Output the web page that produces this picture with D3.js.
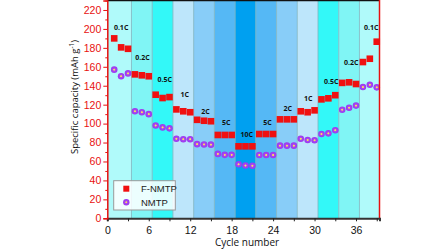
<!DOCTYPE html>
<html><head><meta charset="utf-8">
<script src="https://cdn.jsdelivr.net/npm/d3@7/dist/d3.min.js"></script>
<style>body{margin:0;background:#fff}svg{display:block}</style>
</head><body>
<script>
const cycles = d3.range(1, 40);
const fnmtp = [190,180.5,179, 152,151,150, 130.5,127,128, 115,113,112, 104,103,102.5, 88,88,88, 76,76,76, 89,89,89, 104.5,104.5,104.5, 113,112,114, 125.6,126.7,130, 143,143.6,141.8, 165,168.5,186.5];
const nmtp = [157,150,153, 113,112,110, 98,96,95, 84,83.5,83.5, 78.3,78,77.8, 68,67,67, 57,55.7,55.5, 66.8,66.8,66.8, 76.7,76.7,76.7, 84,82.7,82.4, 89,89.7,93, 114.7,116.8,119, 138.6,141,138.3];
const bandEdges = [0,3.5,6.5,9.5,12.5,15.5,18.5,21.5,24.5,27.5,30.5,33.5,36.5,39.4];
const bandColors = ["#b0fafa","#80f5f5","#33f8f8","#bde6fb","#88cdf8","#55b8f5","#00a0f0","#55b8f5","#88cdf8","#bde6fb","#33f8f8","#80f5f5","#b0fafa"];
const rateLabels = ["0.1C","0.2C","0.5C","1C","2C","5C","10C","5C","2C","1C","0.5C","0.2C","0.1C"];
const labelX = [2,5.1,8.3,11.2,14.2,17.2,20.2,23.2,26.1,29.1,32.4,35.3,38.2];
const labelY = [201,170,147,131,113,101,89,101,116,126,144,164,201];
const xTicks = [0,6,12,18,24,30,36];
const yTicks = d3.range(0, 221, 20);

const W = 448, H = 252;
const svg = d3.select("body").append("svg").attr("width", W).attr("height", H);
const x = d3.scaleLinear().domain([0, 39.4]).range([107.3, 379.5]);
const y = d3.scaleLinear().domain([0, 230]).range([218.3, 0.5]);

const defs = svg.append("defs");
const rg = defs.append("radialGradient").attr("id","pg").attr("cx","50%").attr("cy","50%").attr("r","50%");
rg.append("stop").attr("offset","0%").attr("stop-color","#ffe850");
rg.append("stop").attr("offset","20%").attr("stop-color","#f8d860");
rg.append("stop").attr("offset","40%").attr("stop-color","#a848f0");
rg.append("stop").attr("offset","100%").attr("stop-color","#9a38ee");

// bands
svg.append("g").selectAll("rect").data(bandColors).join("rect")
  .attr("x", (d,i) => x(bandEdges[i]))
  .attr("width", (d,i) => x(bandEdges[i+1]) - x(bandEdges[i]))
  .attr("y", y(230)).attr("height", y(0) - y(230))
  .attr("fill", d => d);
svg.append("g").selectAll("line").data(bandEdges.slice(1, -1)).join("line")
  .attr("x1", d => x(d)).attr("x2", d => x(d))
  .attr("y1", y(230)).attr("y2", y(0))
  .attr("stroke", "#7fb5c0").attr("stroke-width", 1).attr("opacity", 0.8);

// rate labels
svg.append("g").selectAll("text").data(rateLabels).join("text")
  .attr("x", (d,i) => x(labelX[i])).attr("y", (d,i) => y(labelY[i]))
  .attr("text-anchor","middle").attr("dominant-baseline","central")
  .attr("font-family","Open Sans, Liberation Sans, sans-serif").attr("font-weight","bold")
  .attr("font-size", 7).attr("fill","#111").text(d => d);

// markers
svg.append("g").selectAll("circle").data(cycles).join("circle")
  .attr("cx", d => x(d)).attr("cy", (d,i) => y(nmtp[i])).attr("r", 3.3)
  .attr("fill","url(#pg)");
svg.append("g").selectAll("rect").data(cycles).join("rect")
  .attr("x", d => x(d) - 3.3).attr("y", (d,i) => y(fnmtp[i]) - 3.3)
  .attr("width", 6.6).attr("height", 6.6).attr("fill","#f01010");

// frame
svg.append("line").attr("x1", x(0)).attr("x2", x(39.4)).attr("y1", 0.5).attr("y2", 0.5).attr("stroke","#111").attr("stroke-width",1.5);
svg.append("line").attr("x1", x(39.4)).attr("x2", x(39.4)).attr("y1", 0).attr("y2", y(0)).attr("stroke","#e81010").attr("stroke-width",1.5);

// x axis
const xa = svg.append("g").attr("transform", `translate(0,${y(0)})`);
xa.call(d3.axisBottom(x).tickValues(d3.range(0, 40, 3)).tickSize(3).tickFormat(d => xTicks.includes(d) ? d : ""));
xa.select(".domain").attr("stroke","#333").attr("stroke-width",2);
xa.selectAll(".tick line").attr("stroke","#222").attr("stroke-width",1);
xa.selectAll(".tick text").attr("font-family","Liberation Sans, Arial, sans-serif").attr("font-size",10.5).attr("fill","#111").attr("dy","0.9em");

// y axis
const ya = svg.append("g").attr("transform", `translate(${x(0)},0)`);
ya.call(d3.axisLeft(y).tickValues(d3.range(0, 231, 10)).tickSize(4).tickFormat(d => yTicks.includes(d) ? d : ""));
ya.select(".domain").attr("stroke","#e81010").attr("stroke-width",1.5);
ya.selectAll(".tick line").attr("stroke","#e81010").attr("x2", d => d % 20 === 0 ? -4 : -2);
ya.selectAll(".tick text").attr("font-family","Liberation Sans, Arial, sans-serif").attr("font-size",10.5).attr("fill","#e81010").attr("x",-6);

// axis titles
const yt = svg.append("text").attr("transform","translate(78,97) rotate(-90)")
  .attr("text-anchor","middle").attr("font-family","Open Sans, Liberation Sans, sans-serif")
  .attr("font-size",9.5).attr("fill","#111");
yt.append("tspan").text("Specific capacity (mAh g");
yt.append("tspan").attr("font-size",6.5).attr("dy",-4).text("-1");
yt.append("tspan").attr("dy",4).text(")");
svg.append("text").attr("x",247).attr("y",246).attr("text-anchor","middle")
  .attr("font-family","Open Sans, Liberation Sans, sans-serif").attr("font-size",10).attr("fill","#111").text("Cycle number");

// legend
const lg = svg.append("g");
lg.append("rect").attr("x",113.7).attr("y",180.7).attr("width",61.6).attr("height",29.3)
  .attr("fill","#fff").attr("fill-opacity",0.85).attr("stroke","#999").attr("stroke-width",1);
lg.append("rect").attr("x",126.3-3).attr("y",188.7-3).attr("width",6).attr("height",6).attr("fill","#f01010");
lg.append("circle").attr("cx",126.3).attr("cy",202.3).attr("r",3.2).attr("fill","url(#pg)");
lg.append("text").attr("x",141).attr("y",188.7).attr("dominant-baseline","central")
  .attr("font-family","Liberation Sans, Arial, sans-serif").attr("font-size",9.5).attr("fill","#222").text("F-NMTP");
lg.append("text").attr("x",141).attr("y",202.3).attr("dominant-baseline","central")
  .attr("font-family","Liberation Sans, Arial, sans-serif").attr("font-size",9.5).attr("fill","#222").text("NMTP");
</script>
</body></html>
